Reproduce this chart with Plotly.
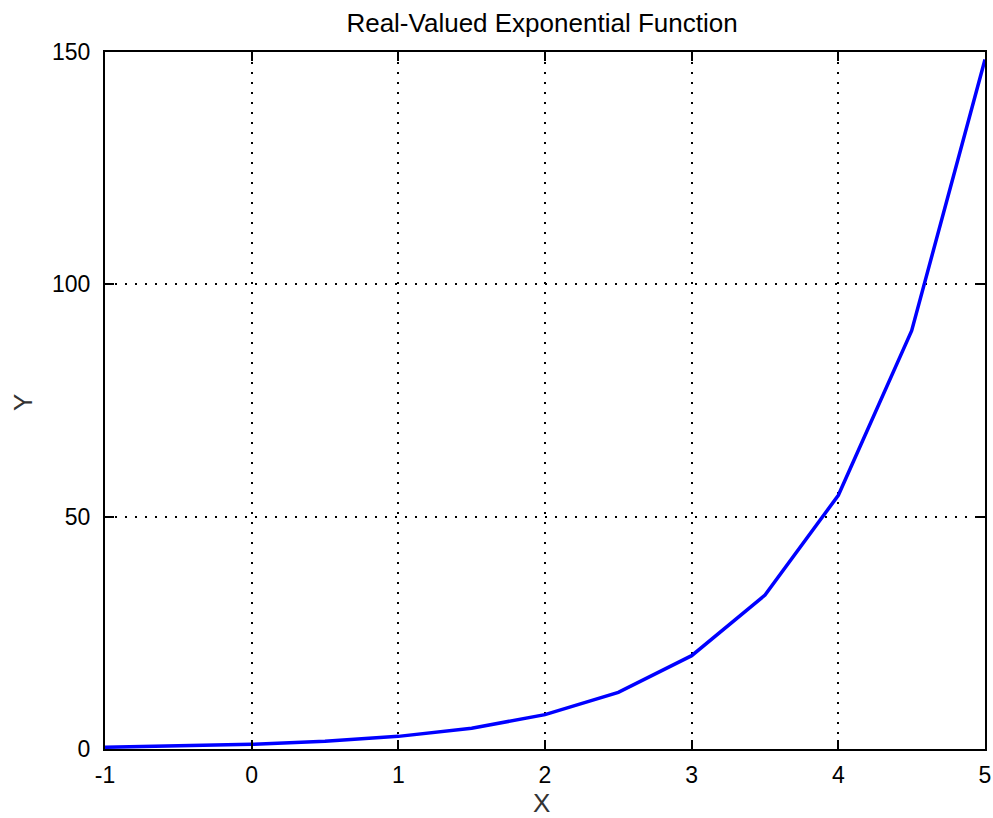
import plotly.graph_objects as go

x_vals = [-1.0, -0.5, 0.0, 0.5, 1.0, 1.5, 2.0, 2.5, 3.0, 3.5, 4.0, 4.5, 5.0]
y_vals = [0.368, 0.607, 1.0, 1.649, 2.718, 4.482, 7.389, 12.18, 20.09, 33.12, 54.6, 90.02, 148.4]
x_ticks = [-1, 0, 1, 2, 3, 4, 5]
y_ticks = [0, 50, 100, 150]

FONT = "Liberation Sans, Arial"

fig = go.Figure()
fig.add_trace(go.Scatter(x=x_vals, y=y_vals, mode="lines",
                         line=dict(color="#0000ff", width=3.5), showlegend=False))

axis_common = dict(
    showline=True, linecolor="black", linewidth=2, mirror="ticks",
    ticks="inside", ticklen=9, tickwidth=1.5, tickcolor="black",
    showgrid=True, gridcolor="black", gridwidth=1.5, griddash="2px,8px",
    zeroline=False, automargin=False,
    tickfont=dict(family=FONT, size=23, color="black"),
)

fig.update_layout(
    width=993, height=818,
    margin=dict(l=105, r=8, t=52, b=69),
    paper_bgcolor="white", plot_bgcolor="white",
    title=dict(text="Real-Valued Exponential Function", x=542 / 993, xanchor="center",
               xref="container", yref="container",
               y=1 - 23 / 818, yanchor="middle",
               font=dict(family=FONT, size=26, color="black")),
    xaxis=dict(range=[-1, 5], tickvals=x_ticks, ticktext=[str(t) for t in x_ticks],
               ticklabelstandoff=4, **axis_common),
    yaxis=dict(range=[0, 150], tickvals=y_ticks, ticktext=[str(t) for t in y_ticks],
               ticklabelstandoff=8, **axis_common),
    annotations=[
        dict(text="X", xref="paper", yref="paper", x=0.496, y=(749 - 803) / 697,
             xanchor="center", yanchor="middle", showarrow=False,
             font=dict(family=FONT, size=26, color="#333")),
        dict(text="Y", xref="paper", yref="paper", x=(23 - 105) / 880, y=(749 - 403) / 697,
             xanchor="center", yanchor="middle", showarrow=False, textangle=-90,
             font=dict(family=FONT, size=26, color="#333")),
    ],
)

fig.write_html("out.html", config={"displayModeBar": False},
               post_script="document.body.style.margin='0';document.body.style.overflow='hidden';")
